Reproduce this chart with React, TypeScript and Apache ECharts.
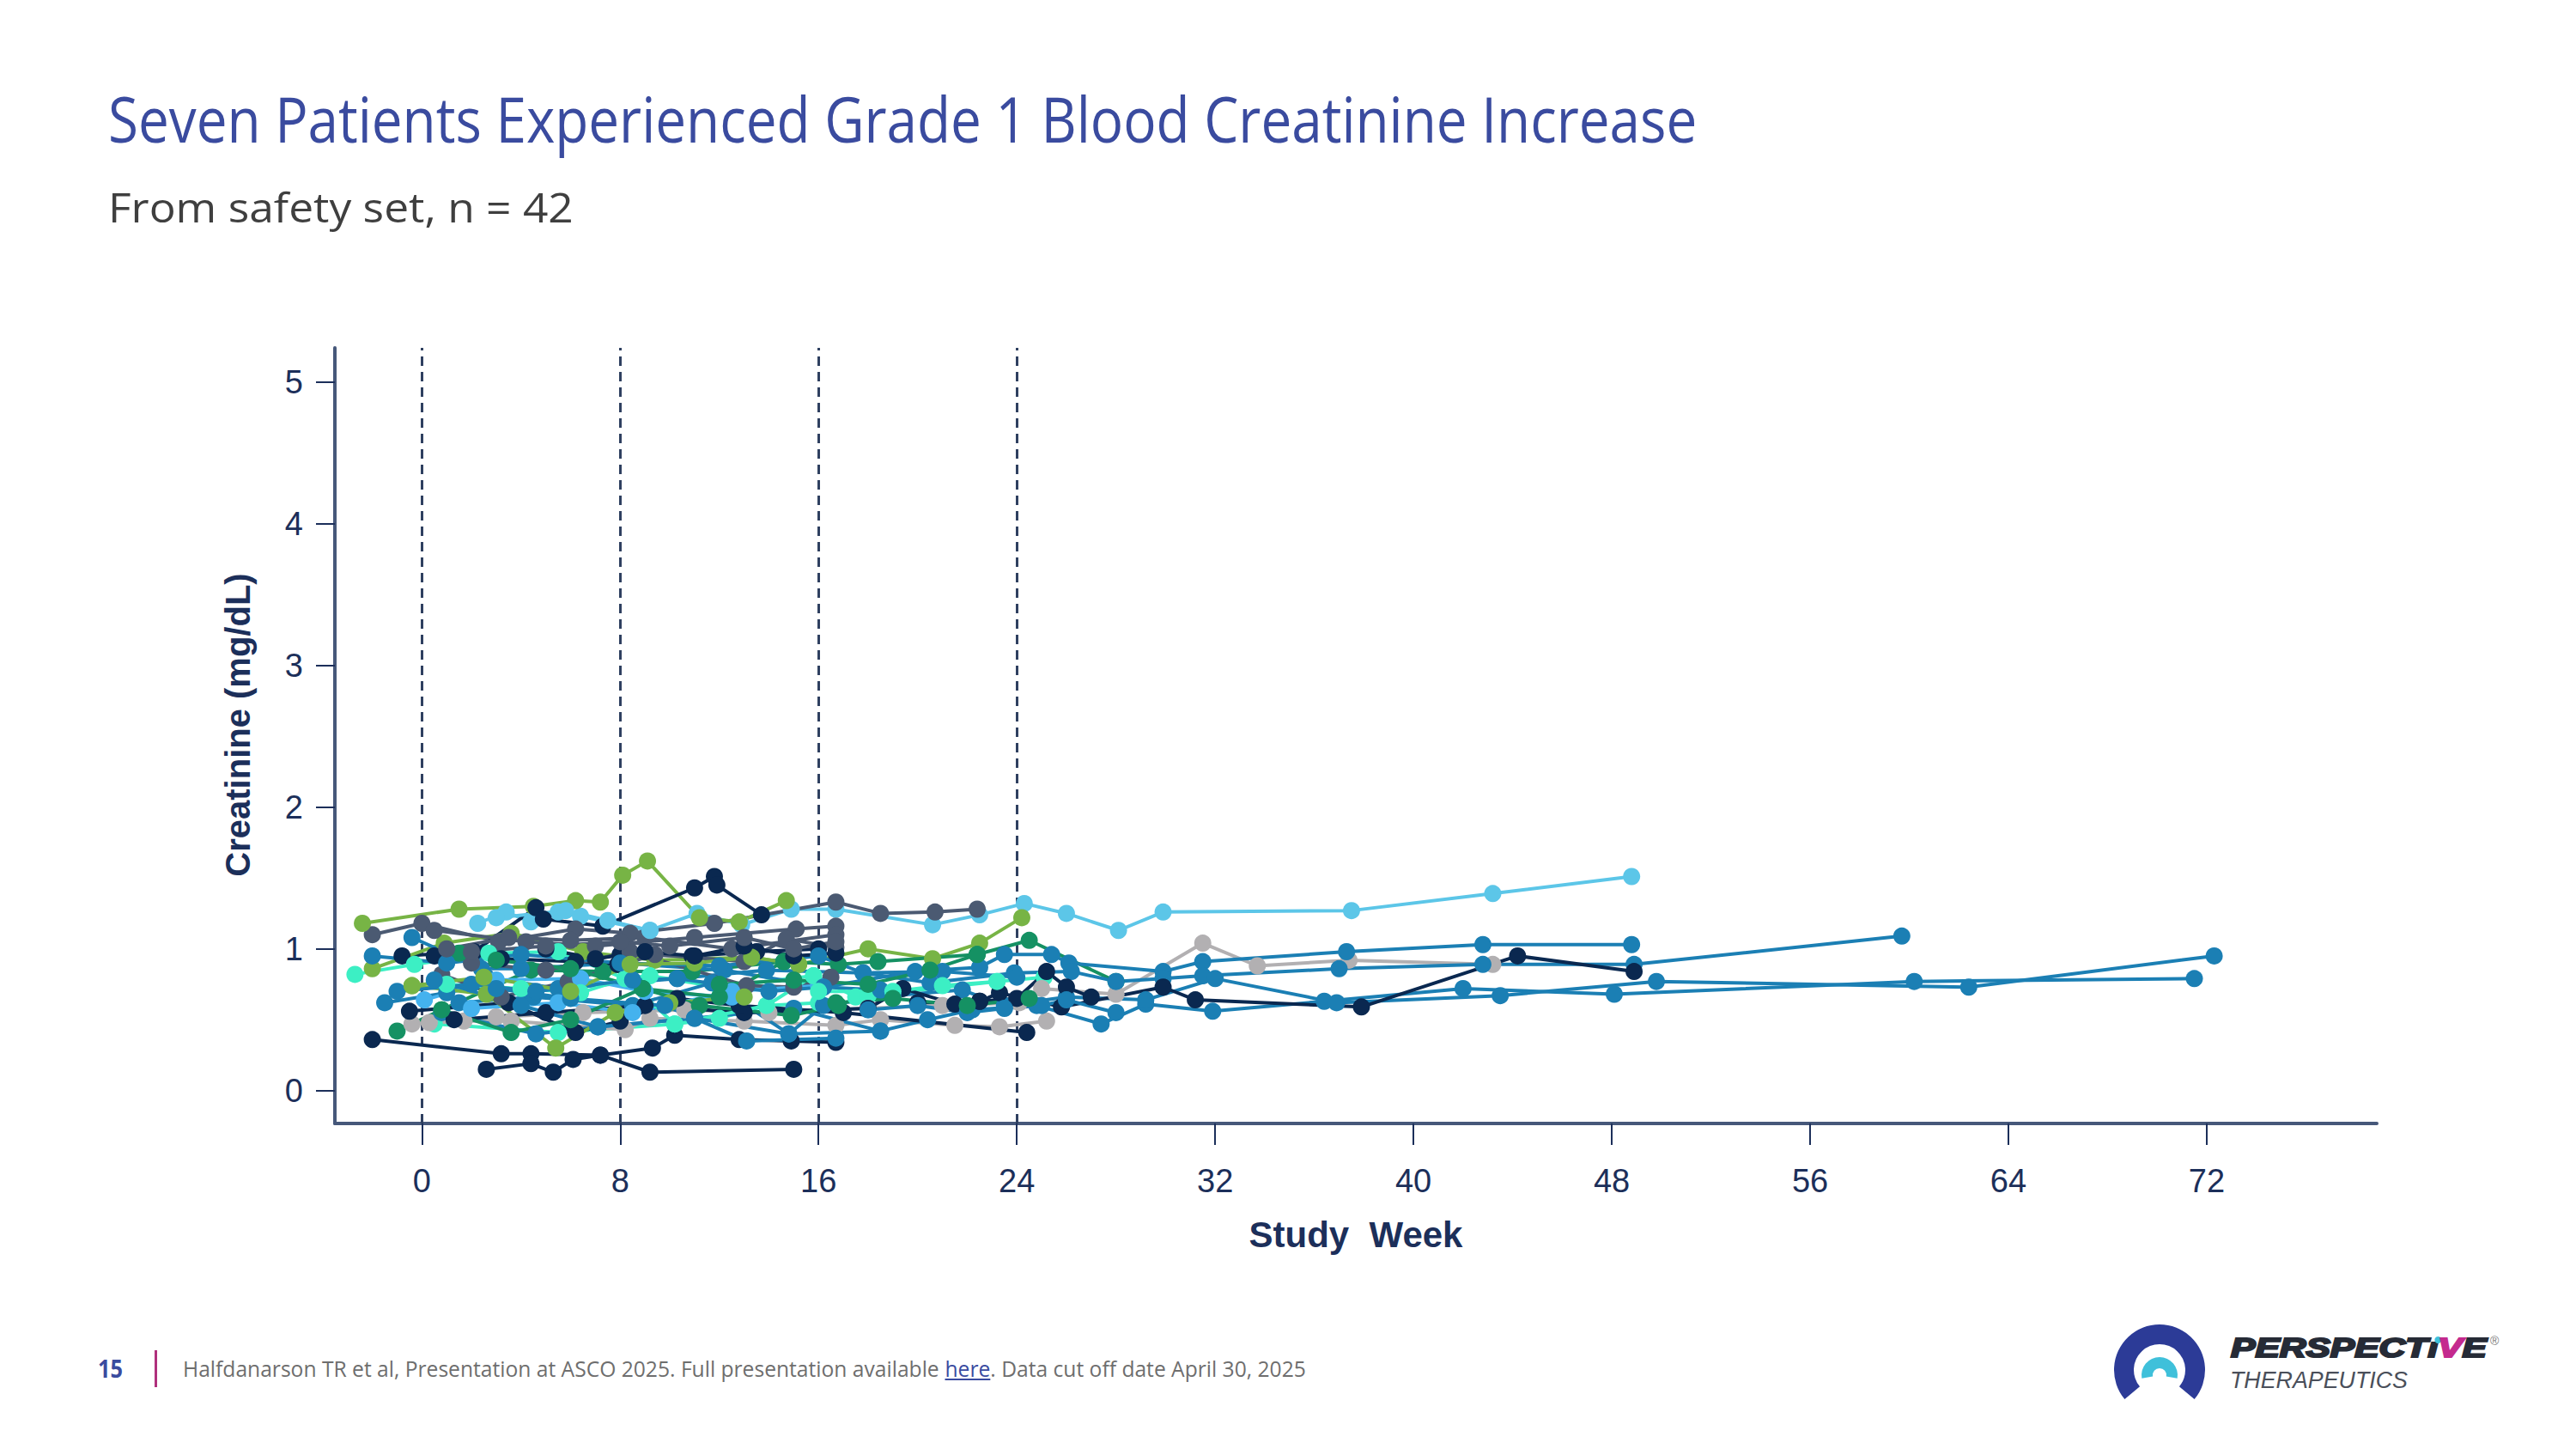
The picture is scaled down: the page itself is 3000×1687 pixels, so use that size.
import React, { useEffect, useRef } from 'react';
import * as echarts from 'echarts';

// ---------- data ----------
const weekTicks = [0, 8, 16, 24, 32, 40, 48, 56, 64, 72];
const creatTicks = [0, 1, 2, 3, 4, 5];
const cycleWeeks = [0, 8, 16, 24];

const p01 = [[2.25,1.18],[3.4,1.26],[4.4,1.19],[5.5,1.26],[6.4,1.23],[9.2,1.13],[11.1,1.25],[12.9,1.17],[14.9,1.28],[16.7,1.28],[20.6,1.17],[22.5,1.24],[24.3,1.32],[26.0,1.25],[28.1,1.13],[29.9,1.26],[37.5,1.27],[43.2,1.39],[48.8,1.51]];
const p02 = [[-2.0,1.10],[0.0,1.18],[3.1,1.05],[6.2,1.14],[8.4,1.11],[11.8,1.18],[16.7,1.33],[18.5,1.25],[20.7,1.26],[22.4,1.28]];
const p03 = [[-2.4,1.18],[1.5,1.28],[4.5,1.30],[6.2,1.34],[7.2,1.33],[8.1,1.52],[9.1,1.62],[11.2,1.22],[12.8,1.19],[14.7,1.34]];
const p04 = [[-0.8,0.95],[2.1,0.98],[4.6,1.29],[4.9,1.21],[7.3,1.16],[11.0,1.43],[11.8,1.51],[11.9,1.45],[13.7,1.24]];
const p05 = [[-2.0,0.36],[3.2,0.26],[4.4,0.26],[7.2,0.25],[9.2,0.13],[15.0,0.15]];
const p06 = [[2.6,0.15],[4.4,0.19],[5.3,0.13],[6.1,0.22],[7.2,0.25],[9.3,0.30],[10.2,0.39],[12.8,0.36],[14.9,0.35],[16.7,0.34]];
const p07 = [[-2.0,0.86],[0.9,1.04],[3.6,1.11],[6.5,0.98],[9.4,0.92],[13.3,0.94],[15.2,0.89],[18.0,1.00],[20.6,0.93],[22.5,1.04],[24.2,1.22]];
const p08 = [[-1.0,0.42],[0.8,0.57],[4.4,0.85],[7.3,0.84],[10.9,0.84],[14.6,0.91],[16.8,0.89],[18.4,0.91],[22.4,0.96],[24.5,1.06],[28.0,0.77]];
const p09 = [[-2.7,0.82],[-0.3,0.89],[2.7,0.97],[5.5,0.98],[8.2,0.79],[9.2,0.81],[12.0,0.73],[15.8,0.81],[17.5,0.66],[18.0,0.67],[23.2,0.77],[25.1,0.80]];
const p10 = [[0.5,0.47],[5.5,0.41],[10.2,0.47],[12.0,0.51],[13.9,0.60],[16.0,0.62]];
const p11 = [[-0.4,0.47],[1.7,0.49],[3.6,0.49],[8.2,0.43],[9.2,0.51],[13.0,0.49],[16.7,0.46],[18.5,0.50],[21.5,0.46],[23.3,0.45],[25.2,0.49]];
const p12 = [[0.3,0.48],[3.0,0.52],[6.5,0.55],[10.6,0.57],[14.0,0.55],[18.0,0.58],[21.0,0.60],[24.1,0.62],[25.0,0.72],[28.0,0.68],[31.5,1.04],[33.7,0.88],[37.4,0.92],[43.2,0.89]];
const p13 = [[-0.4,1.08],[2.4,0.86],[4.0,0.86],[8.0,0.90],[12.2,0.85],[16.2,0.73],[19.9,0.84],[22.5,0.87],[23.5,0.96],[25.4,0.96],[26.1,0.90],[29.9,0.84],[31.5,0.91],[37.3,0.98],[42.8,1.03],[48.8,1.03]];
const p14 = [[-1.5,0.62],[1.0,0.69],[2.6,0.80],[5.5,0.72],[10.3,0.79],[13.9,0.85],[17.8,0.83],[20.5,0.76],[23.9,0.83],[26.2,0.84],[28.0,0.77],[29.9,0.79],[31.5,0.81],[37.0,0.86],[42.8,0.89],[48.9,0.89],[59.7,1.09]];
const p15 = [[0.8,0.55],[4.6,0.40],[7.1,0.45],[11.0,0.51],[15.0,0.58],[18.5,0.42],[20.4,0.50],[22.2,0.57],[24.8,0.60],[27.4,0.47],[29.2,0.61],[31.9,0.56],[36.4,0.63],[42.0,0.72],[48.1,0.68],[60.2,0.77],[71.5,0.79]];
const p16 = [[1.5,0.62],[4.5,0.66],[8.5,0.60],[11.7,0.76],[14.8,0.40],[16.2,0.60],[19.0,0.67],[21.8,0.71],[23.5,0.60],[26.0,0.66],[29.2,0.64],[32.0,0.79],[36.9,0.62],[43.5,0.67],[49.8,0.77],[62.4,0.73],[72.3,0.95]];
const p17 = [[1.3,0.50],[5.0,0.55],[9.0,0.60],[13.0,0.55],[18.0,0.58],[19.4,0.72],[21.5,0.61],[22.5,0.63],[23.3,0.69],[25.8,0.59],[29.9,0.73],[31.2,0.64],[37.9,0.59],[44.2,0.95],[48.9,0.84]];
const p18 = [[-0.5,0.56],[3.5,0.62],[6.2,0.41],[8.0,0.49],[10.3,0.65],[12.8,0.60],[17.0,0.55],[24.4,0.41]];
const p19 = [[0.5,0.95],[3.2,0.93],[6.2,0.91],[7.9,0.89],[8.0,0.96],[10.9,0.95],[13.5,0.98],[16.0,1.00]];
const p20 = [[0.5,1.13],[4.2,1.05],[7.0,1.02],[11.0,1.08],[15.1,1.14],[16.7,1.16]];
const p21 = [[0.8,0.82],[3.2,0.66],[5.9,0.77],[9.4,0.96],[13.0,0.91],[14.7,1.07],[16.7,1.01]];
const p22 = [[2.0,0.90],[5.0,0.85],[8.4,0.98],[13.1,0.74],[15.0,0.73],[16.5,0.80]];
const p23 = [[0.1,0.64],[3.0,0.78],[6.4,0.79],[9.0,0.70],[12.5,0.66]];
const p24 = [[2.0,0.58],[5.5,0.62],[8.5,0.55],[12.5,0.70],[16.0,0.74]];
const p25 = [[-0.4,0.74],[2.6,0.68],[5.4,0.30],[7.8,0.55],[10.0,0.62],[13.0,0.66]];
const p26 = [[1.5,0.97],[3.0,0.92],[6.0,0.86],[8.9,0.72],[11.2,0.60],[14.9,0.53],[16.8,0.60]];
const p27 = [[0.8,0.57],[3.6,0.41],[6.0,0.50],[8.9,0.72],[12.0,0.66],[14.6,0.91]];
const p28 = [[1.0,0.75],[4.0,0.72],[6.4,0.69],[8.2,0.79],[10.2,0.47],[13.9,0.60],[15.8,0.81]];
const p29 = [[3.0,0.72],[6.0,0.65],[9.8,0.60],[13.1,0.35],[16.7,0.37]];
const p30 = [[-1.0,0.70],[2.0,0.75],[4.6,0.70],[8.5,0.78],[10.3,0.79],[14.0,0.70],[16.2,0.73],[18.5,0.71],[19.0,0.67]];
const p31 = [[0.5,0.78],[4.0,0.60],[7.1,0.45],[11.0,0.51],[14.8,0.40],[18.5,0.42]];
const p32 = [[-2.0,0.95],[1.0,0.90],[4.0,0.96],[8.0,0.90],[12.0,0.88],[16.0,0.95],[17.8,0.83],[21.0,0.84],[24.0,0.80]];
const p33 = [[20.0,0.62],[22.5,0.63],[24.0,0.65],[25.2,0.84],[26.0,0.73],[27.0,0.66]];
const p34 = [[1.0,1.00],[3.5,1.08],[6.0,1.06],[9.0,1.08],[12.5,1.00],[16.7,1.10]];
const p35 = [[-0.4,0.74],[2.5,0.80],[6.0,0.70],[8.4,0.89],[11.0,0.90],[13.3,0.94],[15.2,0.89]];
const p36 = [[3.0,1.22],[5.8,1.27],[7.5,1.20],[9.2,1.13]];
const p37 = [[12.0,0.75],[15.0,0.78],[18.0,0.75],[20.5,0.85],[22.4,0.96]];
const p38 = [[5.0,1.00],[7.0,0.93],[9.0,0.98],[11.0,0.95],[13.0,1.02],[15.0,0.95],[16.7,0.97]];
const p39 = [[18.0,0.57],[20.0,0.60],[22.0,0.55],[23.5,0.58],[25.0,0.60],[26.0,0.64],[28.0,0.55]];
const p40 = [[2.0,0.98],[5.0,1.02],[8.0,1.05],[10.0,1.02],[13.0,1.08],[15.0,1.00],[16.7,1.05]];
const p41 = [[16.0,0.70],[19.0,0.70],[21.0,0.74],[23.2,0.77]];
const p42 = [[16.7,0.62],[19.0,0.65],[22.0,0.60],[24.5,0.65]];

const patients = [p01,p02,p03,p04,p05,p06,p07,p08,p09,p10,p11,p12,p13,p14,p15,p16,p17,p18,p19,p20,p21,p22,p23,p24,p25,p26,p27,p28,p29,p30,p31,p32,p33,p34,p35,p36,p37,p38,p39,p40,p41,p42];
const patientGroups = ['sky','slate','green','navy','navy','navy','green','dkgreen','mint','mint','gray','gray','blue','blue','blue','blue','navy','navy','navy','slate','slate','slate','azure','azure','green','dkgreen','dkgreen','mint','blue','blue','blue','blue','navy','slate','green','sky','dkgreen','navy','blue','slate','mint','dkgreen'];

// ---------- styles ----------
const PALETTE: Record<string, string> = {
  navy: '#0a2850', slate: '#4b5a72', blue: '#1b7fb4', sky: '#5cc6e8', green: '#77b445',
  dkgreen: '#159163', mint: '#3cefc4', gray: '#b2b0b2', azure: '#44b2ee',
};
const AXIS_TEXT = '#1c2f5a';
const SANS = '"Open Sans", "Noto Sans", sans-serif';
const ARIAL = '"Liberation Sans", Arial, sans-serif';

function measure(text: string, font: string): number {
  const ctx = document.createElement('canvas').getContext('2d');
  if (!ctx) return text.length * 10;
  ctx.font = font;
  return ctx.measureText(text).width;
}

function fittedText(text: string, x: number, y: number, targetW: number, size: number, family: string, weight: string, style: string, fill: string) {
  const w = measure(text, `${style} ${weight} ${size}px ${family}`);
  return {
    type: 'text', x, y, scaleX: targetW / w, silent: true,
    style: { text, fontSize: size, fontFamily: family, fontWeight: weight, fontStyle: style, fill, align: 'left', verticalAlign: 'middle' },
  };
}

function buildGraphics(): any[] {
  const g: any[] = [];
  // title & subtitle
  g.push(fittedText('Seven Patients Experienced Grade 1 Blood Creatinine Increase', 126, 137, 1850, 74, SANS, 'normal', 'normal', '#3a4b9f'));
  g.push(fittedText('From safety set, n = 42', 126, 240, 542, 47, SANS, 'normal', 'normal', '#3f3f3f'));
  // y axis name
  g.push({
    type: 'text', x: 277, y: 844, rotation: Math.PI / 2, silent: true,
    style: { text: 'Creatinine (mg/dL)', fontSize: 40, fontFamily: ARIAL, fontWeight: 'bold', fill: AXIS_TEXT, align: 'center', verticalAlign: 'middle' },
  });
  // footer
  g.push(fittedText('15', 114, 1593, 29, 28, SANS, 'bold', 'normal', '#3a4b9f'));
  g.push({ type: 'rect', silent: true, shape: { x: 180, y: 1572, width: 3, height: 43 }, style: { fill: '#b0307c' } });
  const f1 = 'Halfdanarson TR et al, Presentation at ASCO 2025. Full presentation available ';
  const f2 = 'here';
  const f3 = '. Data cut off date April 30, 2025';
  const ff = `normal normal 26px ${SANS}`;
  const w1 = measure(f1, ff), w2 = measure(f2, ff), w3 = measure(f3, ff);
  const s = 1308 / (w1 + w2 + w3);
  const mk = (t: string, x: number, fill: string) => ({
    type: 'text', x, y: 1593, scaleX: s, silent: true,
    style: { text: t, fontSize: 26, fontFamily: SANS, fill, align: 'left', verticalAlign: 'middle' },
  });
  g.push(mk(f1, 213, '#6e6e6e'));
  g.push(mk(f2, 213 + w1 * s, '#3a4ba0'));
  g.push(mk(f3, 213 + (w1 + w2) * s, '#6e6e6e'));
  g.push({ type: 'line', silent: true, shape: { x1: 213 + w1 * s, y1: 1606, x2: 213 + (w1 + w2) * s, y2: 1606 }, style: { stroke: '#3a4ba0', lineWidth: 2 } });

  // logo
  const deg = Math.PI / 180;
  g.push({ type: 'sector', silent: true, shape: { cx: 2515, cy: 1595, r: 53, r0: 30, startAngle: 140 * deg, endAngle: 400 * deg, clockwise: true }, style: { fill: '#2c3b97' } });
  g.push({ type: 'sector', silent: true, shape: { cx: 2515, cy: 1601, r: 21, r0: 8, startAngle: 170 * deg, endAngle: 370 * deg, clockwise: true }, style: { fill: '#3fc0da' } });
  const lf = `italic bold 32px ${ARIAL}`;
  const parts = [
    { t: 'PERSPECT', c: '#262b36' },
    { t: 'ı', c: '#262b36' },
    { t: 'V', c: '#c42a8e' },
    { t: 'E', c: '#262b36' },
  ];
  const widths = parts.map((p) => measure(p.t, lf));
  const tot = widths.reduce((a, b) => a + b, 0);
  const ls = 298 / tot;
  let cx = 2598;
  parts.forEach((p, i) => {
    g.push({
      type: 'text', x: cx, y: 1569, scaleX: ls, silent: true,
      style: { text: p.t, fontSize: 32, fontFamily: ARIAL, fontWeight: 'bold', fontStyle: 'italic', fill: p.c, stroke: p.c, lineWidth: 2.2, align: 'left', verticalAlign: 'middle' },
    });
    if (p.t === 'ı') {
      g.push({ type: 'circle', silent: true, shape: { cx: cx + widths[i] * ls * 0.5 + 6, cy: 1560, r: 4 }, style: { fill: '#3fc0da' } });
    }
    cx += widths[i] * ls;
  });
  g.push({ type: 'text', x: cx + 4, y: 1561, silent: true, style: { text: '®', fontSize: 14, fontFamily: ARIAL, fill: '#777', align: 'left', verticalAlign: 'middle' } });
  g.push(fittedText('THERAPEUTICS', 2597, 1607, 207, 27, ARIAL, 'normal', 'italic', '#4a4f5a'));
  return g;
}

function buildOption(): any {
  const series: any[] = patients.map((pts, i) => {
    const color = PALETTE[patientGroups[i]];
    const s: any = {
      type: 'line',
      data: pts,
      symbol: 'circle',
      symbolSize: 20,
      showSymbol: true,
      lineStyle: { color, width: 4 },
      itemStyle: { color },
      z: 3,
      silent: true,
    };
    if (i === 0) {
      s.markLine = {
        silent: true,
        symbol: ['none', 'none'],
        label: { show: false },
        lineStyle: { type: [11, 7], color: '#2f4060', width: 3 },
        data: cycleWeeks.map((w) => ({ xAxis: w })),
        z: 1,
      };
    }
    return s;
  });

  return {
    animation: false,
    backgroundColor: '#ffffff',
    grid: { left: 390, right: 232, top: 405, bottom: 379, containLabel: false },
    xAxis: {
      type: 'value',
      min: -3.51,
      max: 78.86,
      splitLine: { show: false },
      axisLine: { show: true, onZero: false, lineStyle: { color: '#46587a', width: 4 } },
      axisTick: { show: true, length: 25, customValues: weekTicks, lineStyle: { color: AXIS_TEXT, width: 2 } },
      axisLabel: { customValues: weekTicks, fontSize: 38, color: AXIS_TEXT, fontFamily: ARIAL, margin: 48 },
      name: 'Study  Week',
      nameLocation: 'middle',
      nameGap: 108,
      nameTextStyle: { fontSize: 42, fontWeight: 'bold', color: AXIS_TEXT, fontFamily: ARIAL },
    },
    yAxis: {
      type: 'value',
      min: -0.232,
      max: 5.24,
      splitLine: { show: false },
      axisLine: { show: true, onZero: false, lineStyle: { color: '#46587a', width: 4 } },
      axisTick: { show: true, length: 22, customValues: creatTicks, lineStyle: { color: AXIS_TEXT, width: 2 } },
      axisLabel: { customValues: creatTicks, fontSize: 38, color: AXIS_TEXT, fontFamily: ARIAL, margin: 37 },
    },
    graphic: buildGraphics(),
    series,
  };
}

export default function App() {
  const ref = useRef<HTMLDivElement>(null);
  useEffect(() => {
    if (!ref.current) return;
    const chart = echarts.init(ref.current, undefined, { renderer: 'svg' });
    chart.setOption(buildOption());
    return () => chart.dispose();
  }, []);
  return (
    <div
      ref={ref}
      style={{ position: 'absolute', left: 0, top: 0, width: 3000, height: 1687, background: '#ffffff' }}
    />
  );
}
